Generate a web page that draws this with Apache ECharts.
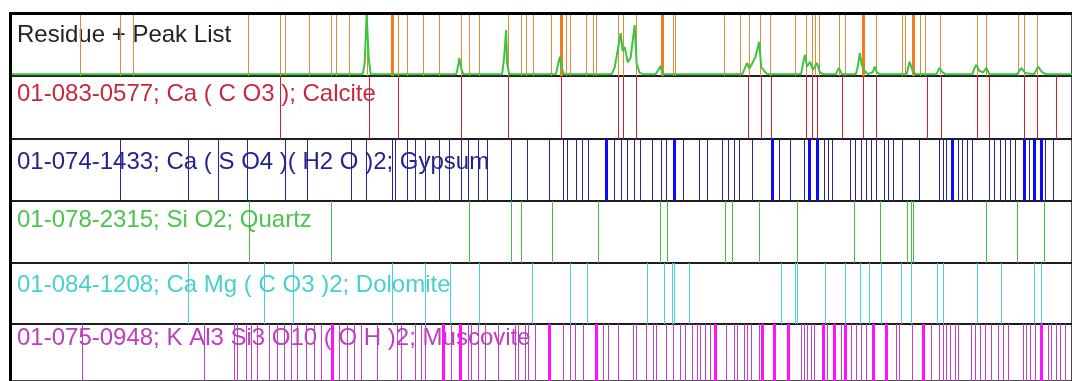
<!DOCTYPE html>
<html>
<head>
<meta charset="utf-8">
<script src="https://cdn.jsdelivr.net/npm/echarts@6/dist/echarts.min.js"></script>
<style>
  html, body { margin: 0; padding: 0; background: #fff; }
  #chart { width: 1072px; height: 381px; }
</style>
</head>
<body>
<div id="chart"></div>
<script>
// phase labels (one per panel, top to bottom)
const labels = [
  'Residue + Peak List',
  '01-083-0577; Ca ( C O3 ); Calcite',
  '01-074-1433; Ca ( S O4 )( H2 O )2; Gypsum',
  '01-078-2315; Si O2; Quartz',
  '01-084-1208; Ca Mg ( C O3 )2; Dolomite',
  '01-075-0948; K Al3 Si3 O10 ( O H )2; Muscovite'
];

// peak list of the residue (positions along the scan)
const peakList = [80, 120, 133, 249, 281, 286, 310, 332, 337, 350, 368, 399, 408, 425, 441,
  463, 471, 481, 510, 523, 528, 535, 553, 568, 572, 588, 595, 598, 620, 625, 638, 675, 678,
  727, 743, 752, 763, 773, 798, 809, 815, 818, 822, 842, 848, 879, 905, 908, 923, 928, 944,
  981, 990, 1022, 1028, 1041];
const peakListHeavy = [393, 563, 664, 866, 916];

// measured pattern (position, relative intensity)
const traceX = [11, 364, 366, 368, 370, 372, 458, 460, 461, 463, 465, 504, 506, 508, 509, 511,
  558, 560, 562, 564, 566, 614, 617, 620, 623, 625, 627, 630, 633, 637, 639, 642, 646,
  658, 661, 663, 665, 745, 748, 750, 752, 755, 758, 762, 764, 767, 770,
  804, 806, 808, 810, 813, 816, 820, 823, 826, 839, 842, 845,
  859, 861, 863, 865, 868, 871, 876, 878, 880, 883, 910, 913, 916, 919,
  940, 943, 946, 949, 976, 978, 980, 983, 987, 990, 993,
  1021, 1025, 1029, 1038, 1042, 1046, 1050, 1076];
const traceY = [3, 3, 20, 100, 30, 3, 3, 18, 29, 12, 3, 3, 30, 74, 20, 3,
  3, 18, 31, 12, 3, 3, 14, 42, 69, 40, 47, 22, 30, 82, 20, 5, 3,
  3, 10, 16, 3, 3, 14, 21, 12, 20, 30, 55, 15, 8, 3,
  3, 20, 34, 15, 23, 10, 21, 6, 3, 3, 13, 3,
  3, 15, 37, 18, 8, 3, 6, 15, 6, 3, 3, 23, 8, 3,
  3, 13, 6, 3, 3, 12, 18, 8, 6, 13, 3,
  3, 13, 5, 3, 15, 6, 3, 3];

// reference patterns
const calcite = [281, 370, 399, 463, 510, 563, 620, 625, 638, 751, 764, 774, 809, 815, 820,
  845, 866, 879, 930, 945, 981, 993, 1028, 1041, 1060];
const gypsum = [120, 189, 219, 248, 286, 308, 352, 367, 393, 396, 408, 417, 427, 441, 451,
  463, 470, 480, 489, 513, 529, 551, 565, 569, 578, 584, 590, 616, 623, 629, 636, 642, 654,
  663, 668, 686, 702, 710, 725, 731, 737, 742, 755, 782, 793, 807, 827, 831, 835, 853, 858,
  864, 869, 874, 879, 887, 891, 896, 905, 922, 943, 947, 950, 962, 966, 971, 976, 993, 998,
  1004, 1009, 1014, 1019, 1033, 1049, 1057];
const gypsumHeavy = [608, 677, 775, 812, 820, 956, 1028, 1038, 1045];
const quartz = [250, 332, 471, 513, 523, 554, 600, 662, 669, 728, 735, 762, 800, 857, 883,
  910, 914, 916, 990, 1021, 1048];
const dolomite = [189, 265, 294, 393, 427, 452, 481, 534, 572, 589, 649, 666, 674, 676, 692,
  784, 798, 800, 828, 848, 863, 872, 884, 904, 914, 940, 947, 981, 1005, 1038, 1045];
const muscovite = [82, 205, 235, 238, 247, 252, 258, 270, 278, 285, 292, 298, 307, 315, 322,
  340, 348, 355, 362, 378, 398, 402, 417, 423, 427, 453, 470, 473, 480, 487, 500, 517, 520,
  527, 530, 537, 565, 572, 577, 585, 605, 610, 620, 635, 638, 648, 655, 658, 668, 675, 683,
  688, 695, 700, 703, 708, 713, 729, 737, 740, 747, 750, 754, 762, 804, 807, 810, 814, 817,
  830, 844, 854, 859, 864, 869, 899, 902, 915, 934, 942, 947, 950, 954, 959, 962, 975, 979,
  984, 989, 995, 1002, 1007, 1012, 1027, 1030, 1034, 1039, 1052, 1055, 1060, 1064, 1069];
const muscoviteHeavy = [333, 445, 462, 551, 598, 718, 765, 777, 791, 826, 837, 848, 876, 889,
  926, 1045];

const labelColors = ['#222222', '#c8283c', '#24248e', '#4cc44c', '#48d0d0', '#c03cc0'];
const panelTops = [14, 76, 139, 201, 263, 324];
const panelHeights = [62, 63, 62, 62, 61, 62];
const labelTops = [23, 82, 150, 208, 273, 326];

const chart = echarts.init(document.getElementById('chart'), null, { renderer: 'canvas' });

const grids = panelTops.map((t, i) => ({
  left: 11, right: -4, top: t, height: panelHeights[i],
  show: true, borderColor: '#111', borderWidth: 1.5, backgroundColor: 'transparent'
}));
const xAxes = panelTops.map((t, i) => ({
  type: 'value', gridIndex: i, min: 11, max: 1076, show: false
}));
const yAxes = panelTops.map((t, i) => ({
  type: 'value', gridIndex: i, min: 0, max: 100, show: false
}));

function sticks(idx, values, color, width) {
  return {
    type: 'custom',
    xAxisIndex: idx,
    yAxisIndex: idx,
    silent: true,
    z: 3,
    data: values.map(v => [v, 0]),
    renderItem: function (params, api) {
      const lo = api.coord([api.value(0), 0]);
      const hi = api.coord([api.value(0), 100]);
      const x = width % 2 ? Math.round(lo[0]) + 0.5 : Math.round(lo[0]);
      return {
        type: 'line',
        shape: { x1: x, y1: lo[1], x2: x, y2: hi[1] },
        style: { stroke: color, lineWidth: width }
      };
    }
  };
}

const option = {
  animation: false,
  backgroundColor: '#fff',
  title: labels.map((txt, i) => ({
    text: txt,
    left: 17,
    top: labelTops[i],
    z: 1,
    padding: 0,
    textStyle: {
      fontFamily: 'Liberation Sans, Arial, sans-serif',
      fontSize: 24,
      fontWeight: 'normal',
      color: labelColors[i]
    }
  })),
  grid: grids,
  xAxis: xAxes,
  yAxis: yAxes,
  series: [
    sticks(0, peakList, '#e08a3c', 1),
    sticks(0, peakListHeavy, '#f47a1c', 3),
    {
      type: 'line',
      xAxisIndex: 0,
      yAxisIndex: 0,
      z: 4,
      silent: true,
      symbol: 'none',
      data: traceX.map((x, k) => [x, traceY[k]]),
      lineStyle: { color: '#3cc43c', width: 2 }
    },
    sticks(1, calcite, '#cc2030', 1),
    sticks(2, gypsum, '#2424a0', 1),
    sticks(2, gypsumHeavy, '#0a0aff', 3),
    sticks(3, quartz, '#44c044', 1),
    sticks(4, dolomite, '#48d4d4', 1),
    sticks(5, muscovite, '#c040c8', 1),
    sticks(5, muscoviteHeavy, '#ff10ff', 3)
  ],
  graphic: [
    { type: 'rect', z: 10, shape: { x: 9, y: 12, width: 1070, height: 3 }, style: { fill: '#000' } },
    { type: 'rect', z: 10, shape: { x: 9, y: 12, width: 3, height: 375 }, style: { fill: '#000' } }
  ]
};

chart.setOption(option);
</script>
</body>
</html>
